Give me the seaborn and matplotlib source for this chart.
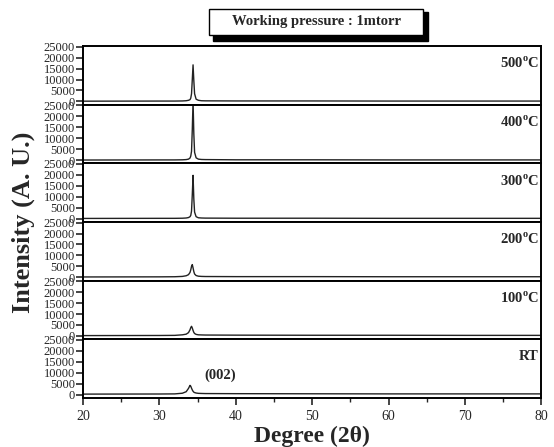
"""XRD patterns stacked by annealing temperature."""
import matplotlib
matplotlib.use("Agg")
import matplotlib.pyplot as plt
from matplotlib.patches import Rectangle
import pandas as pd
import seaborn as sns

# 2-theta grid (deg)
two_theta = [20, 30, 32, 33, 33.5, 33.8, 34.0, 34.1, 34.2, 34.3, 34.4, 34.5,
             34.6, 34.8, 35.1, 35.5, 36, 40, 50, 60, 70, 80]

# intensities (a.u.) per sample
int_500 = [100, 150, 150, 200, 300, 500, 800, 1500, 3500, 10000, 16700, 9500,
           3500, 1000, 500, 300, 250, 200, 200, 150, 150, 150]
int_400 = [0, 50, 50, 100, 200, 400, 900, 1800, 4000, 14000, 27000, 12000,
           3500, 1000, 400, 250, 200, 100, 100, 50, 50, 50]
int_300 = [100, 150, 150, 200, 300, 500, 900, 1500, 3500, 11000, 19800, 9000,
           3000, 900, 400, 300, 250, 200, 200, 150, 150, 150]
int_200 = [150, 200, 250, 400, 700, 1200, 2200, 3400, 5000, 5800, 4300, 2600,
           1500, 800, 500, 400, 350, 300, 300, 250, 250, 250]
int_100 = [150, 200, 250, 500, 800, 1500, 2800, 3800, 4400, 3600, 2500, 1600,
           1100, 700, 500, 450, 400, 350, 300, 300, 250, 250]
int_rt = [200, 250, 300, 600, 1300, 2800, 4200, 3800, 2900, 2100, 1500, 1100,
          900, 700, 550, 500, 450, 400, 350, 300, 300, 300]

samples = ["500$^{\\rm o}$C", "400$^{\\rm o}$C", "300$^{\\rm o}$C",
           "200$^{\\rm o}$C", "100$^{\\rm o}$C", "RT"]
series = [int_500, int_400, int_300, int_200, int_100, int_rt]

y_ticks = [0, 5000, 10000, 15000, 20000, 25000]
x_ticks = [20, 30, 40, 50, 60, 70, 80]

sns.set_theme(style="ticks")
plt.rcParams["font.family"] = ["Liberation Serif", "DejaVu Serif"]
plt.rcParams["mathtext.fontset"] = "custom"
plt.rcParams["mathtext.rm"] = "Liberation Serif:bold"

fig, axes = plt.subplots(6, 1, figsize=(5.54, 4.47), dpi=100, sharex=True)
fig.subplots_adjust(left=0.150, right=0.977, top=0.897, bottom=0.110, hspace=0)

for ax, name, vals in zip(axes, samples, series):
    df = pd.DataFrame({"2theta": two_theta, "I": vals})
    sns.lineplot(data=df, x="2theta", y="I", ax=ax, color="#222222", lw=1.0)
    ax.set_xlim(20, 80)
    ax.set_ylim(-1500, 25300)
    ax.set_yticks(y_ticks)
    ax.set_yticklabels([str(t) for t in y_ticks], fontsize=9)
    ax.set_xlabel("")
    ax.set_ylabel("")
    for sp in ax.spines.values():
        sp.set_visible(True)
        sp.set_linewidth(1.4)
        sp.set_color("black")
    ax.tick_params(axis="y", direction="out", length=5, width=1.2, pad=1)
    ax.tick_params(axis="x", direction="out", length=0)
    ax.text(0.995, 0.70, name, transform=ax.transAxes, ha="right", va="center",
            fontsize=10.5, fontweight="bold")

bottom = axes[-1]
bottom.set_xticks(x_ticks)
bottom.set_xticks([25, 35, 45, 55, 65, 75], minor=True)
bottom.set_xticklabels([str(t) for t in x_ticks], fontsize=10)
bottom.tick_params(axis="x", which="major", direction="out", length=5, width=1.2)
bottom.tick_params(axis="x", which="minor", direction="out", length=3, width=1.0)
bottom.text(38.0, 9000, "(002)", ha="center", va="center", fontsize=10.5,
            fontweight="bold")
bottom.set_xlabel("Degree (2\u03b8)", fontsize=17, fontweight="bold", labelpad=2)

fig.text(0.042, 0.503, "Intensity (A. U.)", rotation=90, ha="center",
         va="center", fontsize=19, fontweight="bold")

# title box with drop shadow
W, H = 554, 447
fig.patches.append(Rectangle((213 / W, 1 - 41 / H), 215 / W, 29 / H,
                             transform=fig.transFigure, color="black"))
fig.patches.append(Rectangle((209 / W, 1 - 35 / H), 214 / W, 26 / H,
                             transform=fig.transFigure, facecolor="white",
                             edgecolor="black", lw=1.0))
fig.text(316 / W, 1 - 22 / H, "Working pressure : 1mtorr", ha="center",
         va="center", fontsize=10.5, fontweight="bold")

plt.savefig("out.png", dpi=100)
plt.close()
